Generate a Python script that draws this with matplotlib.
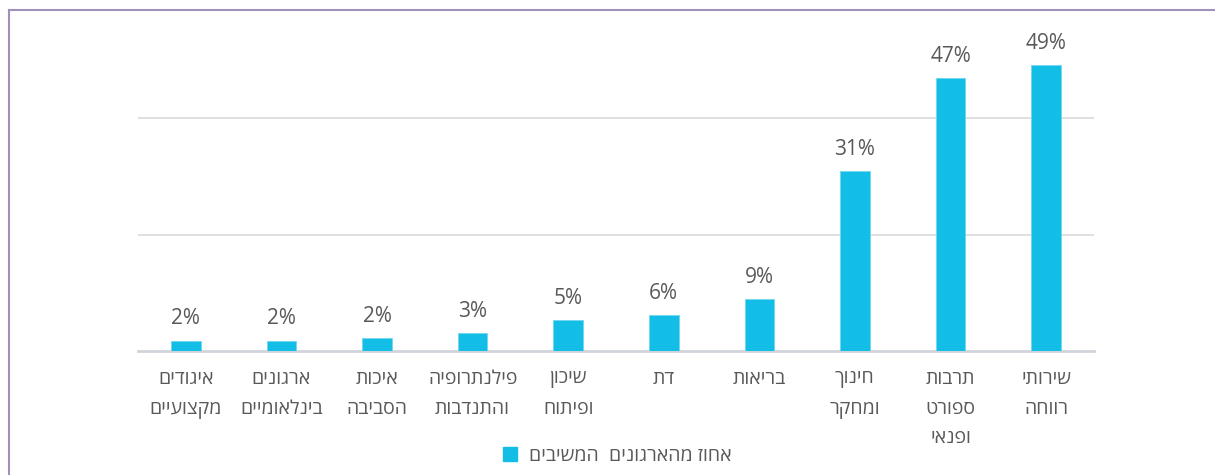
import matplotlib.pyplot as plt
import matplotlib.font_manager as fm
from matplotlib.lines import Line2D
from matplotlib.patches import Patch

# categories in display order, left to right (Hebrew, logical order)
categories = [
    "איגודים\nמקצועיים",
    "ארגונים\nבינלאומיים",
    "איכות\nהסביבה",
    "פילנתרופיה\nוהתנדבות",
    "שיכון\nופיתוח",
    "דת",
    "בריאות",
    "חינוך\nומחקר",
    "תרבות\nספורט\nופנאי",
    "שירותי\nרווחה",
]
values = [1.8, 1.8, 2.2, 3.1, 5.3, 6.2, 9.0, 30.9, 46.9, 49.1]
value_labels = ["2%", "2%", "2%", "3%", "5%", "6%", "9%", "31%", "47%", "49%"]
legend_label = "אחוז מהארגונים  המשיבים"

BAR = "#12BDE6"
TEXT = "#595959"


def rtl(s):
    # matplotlib has no bidi support, so flip each line by hand
    return "\n".join(line[::-1] for line in s.split("\n"))


# static Open Sans for the numbers (normal width), variable file for Hebrew
ttf = fm.fontManager.ttflist
static = [f.fname for f in ttf if f.fname.endswith("OpenSans-Regular.ttf")]
num_font = fm.FontProperties(fname=static[0]) if static else fm.FontProperties(family="DejaVu Sans")
if any(f.name == "Open Sans" and "[" in f.fname for f in ttf):
    fm.fontManager.ttflist = [f for f in ttf
                              if not (f.name == "Open Sans" and "[" not in f.fname)]
plt.rcParams["font.family"] = ["Open Sans", "DejaVu Sans"]

fig = plt.figure(figsize=(12.15, 4.75), dpi=100)
ax = fig.add_axes([0.1136, 0.261, 0.7868, 0.735])

x = range(len(values))
bars = ax.bar(x, values, width=0.31, color=BAR, edgecolor="#6fd6f0", linewidth=0.6,
              zorder=3)

for b, lab in zip(bars, value_labels):
    ax.annotate(lab, (b.get_x() + b.get_width() / 2, b.get_height()),
                xytext=(0, 8), textcoords="offset points",
                ha="center", va="bottom", fontproperties=num_font,
                fontsize=15, color=TEXT)

ax.set_xlim(-0.5, len(values) - 0.5)
ax.set_ylim(0, 60)
ax.set_yticks([20, 40])
ax.yaxis.grid(True, color="#D9D9D9", linewidth=1.2, zorder=0)
ax.tick_params(axis="y", left=False, labelleft=False)

ax.set_xticks(list(x))
ax.set_xticklabels([rtl(c) for c in categories], fontsize=14, color=TEXT,
                   linespacing=1.8, va="top")
ax.tick_params(axis="x", length=0, pad=14)

for s in ["top", "left", "right"]:
    ax.spines[s].set_visible(False)
ax.spines["bottom"].set_color("#D0D4DA")
ax.spines["bottom"].set_linewidth(2)

leg = fig.legend(handles=[Patch(color=BAR, label=rtl(legend_label))],
                 loc="center", bbox_to_anchor=(0.508, 0.040), frameon=False,
                 fontsize=14, handlelength=0.75, handleheight=0.75,
                 handletextpad=0.6)
for t in leg.get_texts():
    t.set_color(TEXT)

# lavender frame on top and left
frame = "#A090BA"
fig.add_artist(Line2D([9 / 1215, 1], [1 - 10 / 475, 1 - 10 / 475],
                      transform=fig.transFigure, color=frame, linewidth=1.5))
fig.add_artist(Line2D([9 / 1215, 9 / 1215], [0, 1 - 10 / 475],
                      transform=fig.transFigure, color=frame, linewidth=1.5))

fig.savefig("out.png", dpi=100)
